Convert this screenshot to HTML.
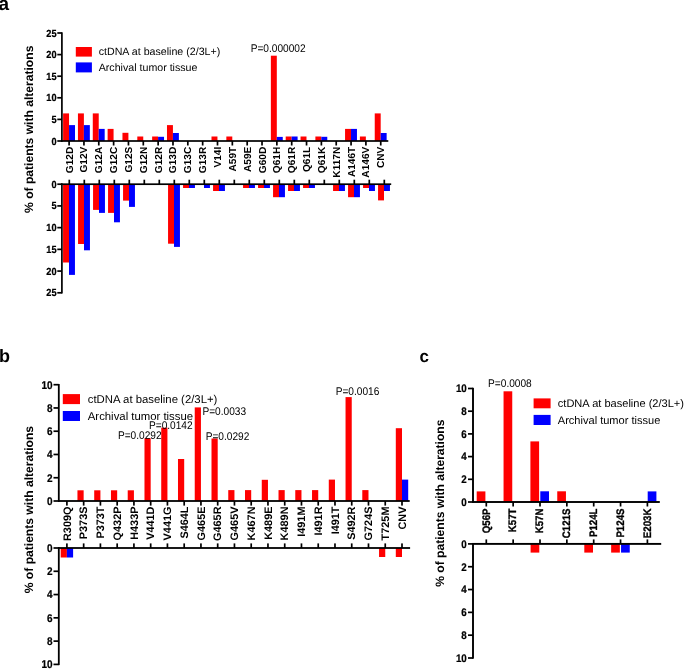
<!DOCTYPE html>
<html><head><meta charset="utf-8"><style>
html,body{margin:0;padding:0;background:#fff;}
svg{display:block;font-family:"Liberation Sans", sans-serif;will-change:transform;text-rendering:geometricPrecision;}
</style></head><body>
<svg width="685" height="669" viewBox="0 0 685 669">
<g>
<rect width="685" height="669" fill="#fff"/>
<rect x="63.10" y="113.40" width="5.95" height="27.60" fill="#ff0000"/>
<rect x="69.05" y="125.10" width="5.95" height="15.90" fill="#0000ff"/>
<rect x="77.94" y="113.40" width="5.95" height="27.60" fill="#ff0000"/>
<rect x="83.89" y="125.10" width="5.95" height="15.90" fill="#0000ff"/>
<rect x="92.78" y="113.40" width="5.95" height="27.60" fill="#ff0000"/>
<rect x="98.73" y="128.90" width="5.95" height="12.10" fill="#0000ff"/>
<rect x="107.62" y="128.90" width="5.95" height="12.10" fill="#ff0000"/>
<rect x="122.46" y="132.80" width="5.95" height="8.20" fill="#ff0000"/>
<rect x="137.30" y="136.50" width="5.95" height="4.50" fill="#ff0000"/>
<rect x="152.14" y="136.50" width="5.95" height="4.50" fill="#ff0000"/>
<rect x="158.09" y="136.80" width="5.95" height="4.20" fill="#0000ff"/>
<rect x="166.98" y="125.10" width="5.95" height="15.90" fill="#ff0000"/>
<rect x="172.93" y="133.00" width="5.95" height="8.00" fill="#0000ff"/>
<rect x="211.50" y="136.50" width="5.95" height="4.50" fill="#ff0000"/>
<rect x="226.34" y="136.50" width="5.95" height="4.50" fill="#ff0000"/>
<rect x="270.86" y="55.70" width="5.95" height="85.30" fill="#ff0000"/>
<rect x="276.81" y="136.90" width="5.95" height="4.10" fill="#0000ff"/>
<rect x="285.70" y="136.50" width="5.95" height="4.50" fill="#ff0000"/>
<rect x="291.65" y="136.50" width="5.95" height="4.50" fill="#0000ff"/>
<rect x="300.54" y="136.50" width="5.95" height="4.50" fill="#ff0000"/>
<rect x="315.38" y="136.50" width="5.95" height="4.50" fill="#ff0000"/>
<rect x="321.33" y="136.80" width="5.95" height="4.20" fill="#0000ff"/>
<rect x="345.06" y="128.90" width="5.95" height="12.10" fill="#ff0000"/>
<rect x="351.01" y="128.90" width="5.95" height="12.10" fill="#0000ff"/>
<rect x="359.90" y="136.50" width="5.95" height="4.50" fill="#ff0000"/>
<rect x="374.74" y="113.40" width="5.95" height="27.60" fill="#ff0000"/>
<rect x="380.69" y="133.00" width="5.95" height="8.00" fill="#0000ff"/>
<rect x="63.05" y="184.20" width="5.95" height="78.30" fill="#ff0000"/>
<rect x="69.00" y="184.20" width="5.95" height="90.70" fill="#0000ff"/>
<rect x="78.05" y="184.20" width="5.95" height="59.80" fill="#ff0000"/>
<rect x="84.00" y="184.20" width="5.95" height="66.10" fill="#0000ff"/>
<rect x="93.05" y="184.20" width="5.95" height="25.70" fill="#ff0000"/>
<rect x="99.00" y="184.20" width="5.95" height="28.70" fill="#0000ff"/>
<rect x="108.05" y="184.20" width="5.95" height="28.70" fill="#ff0000"/>
<rect x="114.00" y="184.20" width="5.95" height="38.10" fill="#0000ff"/>
<rect x="123.05" y="184.20" width="5.95" height="16.40" fill="#ff0000"/>
<rect x="129.00" y="184.20" width="5.95" height="22.70" fill="#0000ff"/>
<rect x="168.05" y="184.20" width="5.95" height="59.50" fill="#ff0000"/>
<rect x="174.00" y="184.20" width="5.95" height="62.70" fill="#0000ff"/>
<rect x="183.05" y="184.20" width="5.95" height="3.80" fill="#ff0000"/>
<rect x="189.00" y="184.20" width="5.95" height="3.80" fill="#0000ff"/>
<rect x="204.00" y="184.20" width="5.95" height="3.80" fill="#0000ff"/>
<rect x="213.05" y="184.20" width="5.95" height="6.80" fill="#ff0000"/>
<rect x="219.00" y="184.20" width="5.95" height="6.80" fill="#0000ff"/>
<rect x="243.05" y="184.20" width="5.95" height="3.80" fill="#ff0000"/>
<rect x="249.00" y="184.20" width="5.95" height="3.80" fill="#0000ff"/>
<rect x="258.05" y="184.20" width="5.95" height="3.80" fill="#ff0000"/>
<rect x="264.00" y="184.20" width="5.95" height="3.80" fill="#0000ff"/>
<rect x="273.05" y="184.20" width="5.95" height="13.00" fill="#ff0000"/>
<rect x="279.00" y="184.20" width="5.95" height="13.00" fill="#0000ff"/>
<rect x="288.05" y="184.20" width="5.95" height="6.80" fill="#ff0000"/>
<rect x="294.00" y="184.20" width="5.95" height="6.80" fill="#0000ff"/>
<rect x="303.05" y="184.20" width="5.95" height="3.80" fill="#ff0000"/>
<rect x="309.00" y="184.20" width="5.95" height="3.80" fill="#0000ff"/>
<rect x="333.05" y="184.20" width="5.95" height="6.80" fill="#ff0000"/>
<rect x="339.00" y="184.20" width="5.95" height="6.80" fill="#0000ff"/>
<rect x="348.05" y="184.20" width="5.95" height="13.00" fill="#ff0000"/>
<rect x="354.00" y="184.20" width="5.95" height="13.00" fill="#0000ff"/>
<rect x="363.05" y="184.20" width="5.95" height="3.80" fill="#ff0000"/>
<rect x="369.00" y="184.20" width="5.95" height="6.80" fill="#0000ff"/>
<rect x="378.05" y="184.20" width="5.95" height="16.20" fill="#ff0000"/>
<rect x="384.00" y="184.20" width="5.95" height="6.80" fill="#0000ff"/>
<rect x="61.05" y="32.30" width="1.70" height="109.50" fill="#000"/>
<rect x="57.30" y="140.15" width="4.60" height="1.70" fill="#000"/>
<text transform="translate(56.60,144.54) scale(1,1.12)" font-size="9.2" font-weight="bold" text-anchor="end" fill="#000" stroke="#000" stroke-width="0.2" >0</text>
<rect x="57.30" y="118.55" width="4.60" height="1.70" fill="#000"/>
<text transform="translate(56.60,122.94) scale(1,1.12)" font-size="9.2" font-weight="bold" text-anchor="end" fill="#000" stroke="#000" stroke-width="0.2" >5</text>
<rect x="57.30" y="96.95" width="4.60" height="1.70" fill="#000"/>
<text transform="translate(56.60,101.34) scale(1,1.12)" font-size="9.2" font-weight="bold" text-anchor="end" fill="#000" stroke="#000" stroke-width="0.2" >10</text>
<rect x="57.30" y="75.35" width="4.60" height="1.70" fill="#000"/>
<text transform="translate(56.60,79.74) scale(1,1.12)" font-size="9.2" font-weight="bold" text-anchor="end" fill="#000" stroke="#000" stroke-width="0.2" >15</text>
<rect x="57.30" y="53.75" width="4.60" height="1.70" fill="#000"/>
<text transform="translate(56.60,58.14) scale(1,1.12)" font-size="9.2" font-weight="bold" text-anchor="end" fill="#000" stroke="#000" stroke-width="0.2" >20</text>
<rect x="57.30" y="32.15" width="4.60" height="1.70" fill="#000"/>
<text transform="translate(56.60,36.54) scale(1,1.12)" font-size="9.2" font-weight="bold" text-anchor="end" fill="#000" stroke="#000" stroke-width="0.2" >25</text>
<rect x="61.05" y="183.40" width="1.70" height="110.10" fill="#000"/>
<rect x="57.30" y="183.35" width="4.60" height="1.70" fill="#000"/>
<text transform="translate(56.60,187.74) scale(1,1.12)" font-size="9.2" font-weight="bold" text-anchor="end" fill="#000" stroke="#000" stroke-width="0.2" >0</text>
<rect x="57.30" y="205.07" width="4.60" height="1.70" fill="#000"/>
<text transform="translate(56.60,209.46) scale(1,1.12)" font-size="9.2" font-weight="bold" text-anchor="end" fill="#000" stroke="#000" stroke-width="0.2" >5</text>
<rect x="57.30" y="226.79" width="4.60" height="1.70" fill="#000"/>
<text transform="translate(56.60,231.18) scale(1,1.12)" font-size="9.2" font-weight="bold" text-anchor="end" fill="#000" stroke="#000" stroke-width="0.2" >10</text>
<rect x="57.30" y="248.51" width="4.60" height="1.70" fill="#000"/>
<text transform="translate(56.60,252.90) scale(1,1.12)" font-size="9.2" font-weight="bold" text-anchor="end" fill="#000" stroke="#000" stroke-width="0.2" >15</text>
<rect x="57.30" y="270.23" width="4.60" height="1.70" fill="#000"/>
<text transform="translate(56.60,274.62) scale(1,1.12)" font-size="9.2" font-weight="bold" text-anchor="end" fill="#000" stroke="#000" stroke-width="0.2" >20</text>
<rect x="57.30" y="291.95" width="4.60" height="1.70" fill="#000"/>
<text transform="translate(56.60,296.34) scale(1,1.12)" font-size="9.2" font-weight="bold" text-anchor="end" fill="#000" stroke="#000" stroke-width="0.2" >25</text>
<rect x="61.10" y="140.15" width="327.20" height="1.70" fill="#000"/>
<rect x="61.10" y="183.35" width="330.10" height="1.70" fill="#000"/>
<rect x="68.25" y="141.00" width="1.70" height="4.50" fill="#000"/>
<rect x="68.45" y="179.70" width="1.70" height="4.50" fill="#000"/>
<text transform="translate(72.59,146.70) rotate(-90)" font-size="10.15" font-weight="bold" text-anchor="end" fill="#000" >G12D</text>
<rect x="83.09" y="141.00" width="1.70" height="4.50" fill="#000"/>
<rect x="83.45" y="179.70" width="1.70" height="4.50" fill="#000"/>
<text transform="translate(87.43,146.70) rotate(-90)" font-size="10.15" font-weight="bold" text-anchor="end" fill="#000" >G12V</text>
<rect x="97.93" y="141.00" width="1.70" height="4.50" fill="#000"/>
<rect x="98.45" y="179.70" width="1.70" height="4.50" fill="#000"/>
<text transform="translate(102.27,146.70) rotate(-90)" font-size="10.15" font-weight="bold" text-anchor="end" fill="#000" >G12A</text>
<rect x="112.77" y="141.00" width="1.70" height="4.50" fill="#000"/>
<rect x="113.45" y="179.70" width="1.70" height="4.50" fill="#000"/>
<text transform="translate(117.11,146.70) rotate(-90)" font-size="10.15" font-weight="bold" text-anchor="end" fill="#000" >G12C</text>
<rect x="127.61" y="141.00" width="1.70" height="4.50" fill="#000"/>
<rect x="128.45" y="179.70" width="1.70" height="4.50" fill="#000"/>
<text transform="translate(131.95,146.70) rotate(-90)" font-size="10.15" font-weight="bold" text-anchor="end" fill="#000" >G12S</text>
<rect x="142.45" y="141.00" width="1.70" height="4.50" fill="#000"/>
<rect x="143.45" y="179.70" width="1.70" height="4.50" fill="#000"/>
<text transform="translate(146.79,146.70) rotate(-90)" font-size="10.15" font-weight="bold" text-anchor="end" fill="#000" >G12N</text>
<rect x="157.29" y="141.00" width="1.70" height="4.50" fill="#000"/>
<rect x="158.45" y="179.70" width="1.70" height="4.50" fill="#000"/>
<text transform="translate(161.63,146.70) rotate(-90)" font-size="10.15" font-weight="bold" text-anchor="end" fill="#000" >G12R</text>
<rect x="172.13" y="141.00" width="1.70" height="4.50" fill="#000"/>
<rect x="173.45" y="179.70" width="1.70" height="4.50" fill="#000"/>
<text transform="translate(176.47,146.70) rotate(-90)" font-size="10.15" font-weight="bold" text-anchor="end" fill="#000" >G13D</text>
<rect x="186.97" y="141.00" width="1.70" height="4.50" fill="#000"/>
<rect x="188.45" y="179.70" width="1.70" height="4.50" fill="#000"/>
<text transform="translate(191.31,146.70) rotate(-90)" font-size="10.15" font-weight="bold" text-anchor="end" fill="#000" >G13C</text>
<rect x="201.81" y="141.00" width="1.70" height="4.50" fill="#000"/>
<rect x="203.45" y="179.70" width="1.70" height="4.50" fill="#000"/>
<text transform="translate(206.15,146.70) rotate(-90)" font-size="10.15" font-weight="bold" text-anchor="end" fill="#000" >G13R</text>
<rect x="216.65" y="141.00" width="1.70" height="4.50" fill="#000"/>
<rect x="218.45" y="179.70" width="1.70" height="4.50" fill="#000"/>
<text transform="translate(220.99,146.70) rotate(-90)" font-size="10.15" font-weight="bold" text-anchor="end" fill="#000" >V14I</text>
<rect x="231.49" y="141.00" width="1.70" height="4.50" fill="#000"/>
<rect x="233.45" y="179.70" width="1.70" height="4.50" fill="#000"/>
<text transform="translate(235.83,146.70) rotate(-90)" font-size="10.15" font-weight="bold" text-anchor="end" fill="#000" >A59T</text>
<rect x="246.33" y="141.00" width="1.70" height="4.50" fill="#000"/>
<rect x="248.45" y="179.70" width="1.70" height="4.50" fill="#000"/>
<text transform="translate(250.67,146.70) rotate(-90)" font-size="10.15" font-weight="bold" text-anchor="end" fill="#000" >A59E</text>
<rect x="261.17" y="141.00" width="1.70" height="4.50" fill="#000"/>
<rect x="263.45" y="179.70" width="1.70" height="4.50" fill="#000"/>
<text transform="translate(265.51,146.70) rotate(-90)" font-size="10.15" font-weight="bold" text-anchor="end" fill="#000" >G60D</text>
<rect x="276.01" y="141.00" width="1.70" height="4.50" fill="#000"/>
<rect x="278.45" y="179.70" width="1.70" height="4.50" fill="#000"/>
<text transform="translate(280.35,146.70) rotate(-90)" font-size="10.15" font-weight="bold" text-anchor="end" fill="#000" >Q61H</text>
<rect x="290.85" y="141.00" width="1.70" height="4.50" fill="#000"/>
<rect x="293.45" y="179.70" width="1.70" height="4.50" fill="#000"/>
<text transform="translate(295.19,146.70) rotate(-90)" font-size="10.15" font-weight="bold" text-anchor="end" fill="#000" >Q61R</text>
<rect x="305.69" y="141.00" width="1.70" height="4.50" fill="#000"/>
<rect x="308.45" y="179.70" width="1.70" height="4.50" fill="#000"/>
<text transform="translate(310.03,146.70) rotate(-90)" font-size="10.15" font-weight="bold" text-anchor="end" fill="#000" >Q61L</text>
<rect x="320.53" y="141.00" width="1.70" height="4.50" fill="#000"/>
<rect x="323.45" y="179.70" width="1.70" height="4.50" fill="#000"/>
<text transform="translate(324.87,146.70) rotate(-90)" font-size="10.15" font-weight="bold" text-anchor="end" fill="#000" >Q61K</text>
<rect x="335.37" y="141.00" width="1.70" height="4.50" fill="#000"/>
<rect x="338.45" y="179.70" width="1.70" height="4.50" fill="#000"/>
<text transform="translate(339.71,146.70) rotate(-90)" font-size="10.15" font-weight="bold" text-anchor="end" fill="#000" >K117N</text>
<rect x="350.21" y="141.00" width="1.70" height="4.50" fill="#000"/>
<rect x="353.45" y="179.70" width="1.70" height="4.50" fill="#000"/>
<text transform="translate(354.55,146.70) rotate(-90)" font-size="10.15" font-weight="bold" text-anchor="end" fill="#000" >A146T</text>
<rect x="365.05" y="141.00" width="1.70" height="4.50" fill="#000"/>
<rect x="368.45" y="179.70" width="1.70" height="4.50" fill="#000"/>
<text transform="translate(369.39,146.70) rotate(-90)" font-size="10.15" font-weight="bold" text-anchor="end" fill="#000" >A146V</text>
<rect x="379.89" y="141.00" width="1.70" height="4.50" fill="#000"/>
<rect x="383.45" y="179.70" width="1.70" height="4.50" fill="#000"/>
<text transform="translate(384.23,146.70) rotate(-90)" font-size="10.15" font-weight="bold" text-anchor="end" fill="#000" >CNV</text>
<rect x="75.80" y="47.00" width="16.10" height="9.60" fill="#ff0000"/>
<rect x="75.80" y="62.40" width="16.10" height="10.00" fill="#0000ff"/>
<text transform="translate(98.70,55.30)" font-size="10.65" font-weight="normal" text-anchor="start" fill="#000" >ctDNA at baseline (2/3L+)</text>
<text transform="translate(98.70,70.70)" font-size="10.65" font-weight="normal" text-anchor="start" fill="#000" >Archival tumor tissue</text>
<text transform="translate(33.30,129.30) rotate(-90)" font-size="12.1" font-weight="bold" text-anchor="middle" fill="#000" >% of patients with alterations</text>
<text transform="translate(-1.50,9.60)" font-size="19" font-weight="bold" text-anchor="start" fill="#000" >a</text>
<text transform="translate(250.70,51.70) scale(1,1.1)" font-size="10.15" font-weight="normal" text-anchor="start" fill="#000" >P=0.000002</text>
<rect x="77.45" y="490.30" width="6.20" height="10.70" fill="#ff0000"/>
<rect x="94.21" y="490.30" width="6.20" height="10.70" fill="#ff0000"/>
<rect x="110.97" y="490.30" width="6.20" height="10.70" fill="#ff0000"/>
<rect x="127.72" y="490.30" width="6.20" height="10.70" fill="#ff0000"/>
<rect x="144.48" y="438.20" width="6.20" height="62.80" fill="#ff0000"/>
<rect x="161.23" y="427.70" width="6.20" height="73.30" fill="#ff0000"/>
<rect x="177.99" y="459.00" width="6.20" height="42.00" fill="#ff0000"/>
<rect x="194.74" y="407.40" width="6.20" height="93.60" fill="#ff0000"/>
<rect x="211.50" y="438.50" width="6.20" height="62.50" fill="#ff0000"/>
<rect x="228.25" y="490.10" width="6.20" height="10.90" fill="#ff0000"/>
<rect x="245.00" y="490.10" width="6.20" height="10.90" fill="#ff0000"/>
<rect x="261.76" y="479.80" width="6.20" height="21.20" fill="#ff0000"/>
<rect x="278.52" y="490.10" width="6.20" height="10.90" fill="#ff0000"/>
<rect x="295.27" y="490.10" width="6.20" height="10.90" fill="#ff0000"/>
<rect x="312.03" y="490.10" width="6.20" height="10.90" fill="#ff0000"/>
<rect x="328.78" y="479.60" width="6.20" height="21.40" fill="#ff0000"/>
<rect x="345.54" y="397.10" width="6.20" height="103.90" fill="#ff0000"/>
<rect x="362.29" y="490.10" width="6.20" height="10.90" fill="#ff0000"/>
<rect x="395.80" y="428.20" width="6.20" height="72.80" fill="#ff0000"/>
<rect x="402.00" y="479.60" width="6.20" height="21.40" fill="#0000ff"/>
<rect x="60.70" y="548.00" width="6.20" height="9.50" fill="#ff0000"/>
<rect x="66.90" y="548.00" width="6.20" height="9.50" fill="#0000ff"/>
<rect x="379.05" y="548.00" width="6.20" height="9.00" fill="#ff0000"/>
<rect x="395.80" y="548.00" width="6.20" height="9.00" fill="#ff0000"/>
<rect x="57.90" y="384.00" width="1.80" height="117.80" fill="#000"/>
<rect x="53.50" y="500.15" width="5.30" height="1.70" fill="#000"/>
<text transform="translate(52.60,504.85) scale(1,1.12)" font-size="10" font-weight="bold" text-anchor="end" fill="#000" stroke="#000" stroke-width="0.2" >0</text>
<rect x="53.50" y="476.89" width="5.30" height="1.70" fill="#000"/>
<text transform="translate(52.60,481.59) scale(1,1.12)" font-size="10" font-weight="bold" text-anchor="end" fill="#000" stroke="#000" stroke-width="0.2" >2</text>
<rect x="53.50" y="453.63" width="5.30" height="1.70" fill="#000"/>
<text transform="translate(52.60,458.33) scale(1,1.12)" font-size="10" font-weight="bold" text-anchor="end" fill="#000" stroke="#000" stroke-width="0.2" >4</text>
<rect x="53.50" y="430.37" width="5.30" height="1.70" fill="#000"/>
<text transform="translate(52.60,435.07) scale(1,1.12)" font-size="10" font-weight="bold" text-anchor="end" fill="#000" stroke="#000" stroke-width="0.2" >6</text>
<rect x="53.50" y="407.11" width="5.30" height="1.70" fill="#000"/>
<text transform="translate(52.60,411.81) scale(1,1.12)" font-size="10" font-weight="bold" text-anchor="end" fill="#000" stroke="#000" stroke-width="0.2" >8</text>
<rect x="53.50" y="383.85" width="5.30" height="1.70" fill="#000"/>
<text transform="translate(52.60,388.55) scale(1,1.12)" font-size="10" font-weight="bold" text-anchor="end" fill="#000" stroke="#000" stroke-width="0.2" >10</text>
<rect x="57.90" y="547.20" width="1.80" height="117.90" fill="#000"/>
<rect x="53.50" y="547.15" width="5.30" height="1.70" fill="#000"/>
<text transform="translate(52.60,551.85) scale(1,1.12)" font-size="10" font-weight="bold" text-anchor="end" fill="#000" stroke="#000" stroke-width="0.2" >0</text>
<rect x="53.50" y="570.43" width="5.30" height="1.70" fill="#000"/>
<text transform="translate(52.60,575.13) scale(1,1.12)" font-size="10" font-weight="bold" text-anchor="end" fill="#000" stroke="#000" stroke-width="0.2" >2</text>
<rect x="53.50" y="593.71" width="5.30" height="1.70" fill="#000"/>
<text transform="translate(52.60,598.41) scale(1,1.12)" font-size="10" font-weight="bold" text-anchor="end" fill="#000" stroke="#000" stroke-width="0.2" >4</text>
<rect x="53.50" y="616.99" width="5.30" height="1.70" fill="#000"/>
<text transform="translate(52.60,621.69) scale(1,1.12)" font-size="10" font-weight="bold" text-anchor="end" fill="#000" stroke="#000" stroke-width="0.2" >6</text>
<rect x="53.50" y="640.27" width="5.30" height="1.70" fill="#000"/>
<text transform="translate(52.60,644.97) scale(1,1.12)" font-size="10" font-weight="bold" text-anchor="end" fill="#000" stroke="#000" stroke-width="0.2" >8</text>
<rect x="53.50" y="663.55" width="5.30" height="1.70" fill="#000"/>
<text transform="translate(52.60,668.25) scale(1,1.12)" font-size="10" font-weight="bold" text-anchor="end" fill="#000" stroke="#000" stroke-width="0.2" >10</text>
<rect x="58.00" y="500.10" width="351.70" height="1.80" fill="#000"/>
<rect x="58.00" y="547.10" width="352.10" height="1.80" fill="#000"/>
<rect x="66.05" y="501.00" width="1.70" height="4.60" fill="#000"/>
<rect x="66.05" y="543.40" width="1.70" height="4.60" fill="#000"/>
<text transform="translate(70.65,506.50) rotate(-90)" font-size="10.9" font-weight="bold" text-anchor="end" fill="#000" >R309Q</text>
<rect x="82.81" y="501.00" width="1.70" height="4.60" fill="#000"/>
<rect x="82.81" y="543.40" width="1.70" height="4.60" fill="#000"/>
<text transform="translate(87.40,506.50) rotate(-90)" font-size="10.9" font-weight="bold" text-anchor="end" fill="#000" >P373S</text>
<rect x="99.56" y="501.00" width="1.70" height="4.60" fill="#000"/>
<rect x="99.56" y="543.40" width="1.70" height="4.60" fill="#000"/>
<text transform="translate(104.16,506.50) rotate(-90)" font-size="10.9" font-weight="bold" text-anchor="end" fill="#000" >P373T</text>
<rect x="116.32" y="501.00" width="1.70" height="4.60" fill="#000"/>
<rect x="116.32" y="543.40" width="1.70" height="4.60" fill="#000"/>
<text transform="translate(120.91,506.50) rotate(-90)" font-size="10.9" font-weight="bold" text-anchor="end" fill="#000" >Q432P</text>
<rect x="133.07" y="501.00" width="1.70" height="4.60" fill="#000"/>
<rect x="133.07" y="543.40" width="1.70" height="4.60" fill="#000"/>
<text transform="translate(137.67,506.50) rotate(-90)" font-size="10.9" font-weight="bold" text-anchor="end" fill="#000" >H433P</text>
<rect x="149.83" y="501.00" width="1.70" height="4.60" fill="#000"/>
<rect x="149.83" y="543.40" width="1.70" height="4.60" fill="#000"/>
<text transform="translate(154.42,506.50) rotate(-90)" font-size="10.9" font-weight="bold" text-anchor="end" fill="#000" >V441D</text>
<rect x="166.58" y="501.00" width="1.70" height="4.60" fill="#000"/>
<rect x="166.58" y="543.40" width="1.70" height="4.60" fill="#000"/>
<text transform="translate(171.18,506.50) rotate(-90)" font-size="10.9" font-weight="bold" text-anchor="end" fill="#000" >V441G</text>
<rect x="183.34" y="501.00" width="1.70" height="4.60" fill="#000"/>
<rect x="183.34" y="543.40" width="1.70" height="4.60" fill="#000"/>
<text transform="translate(187.93,506.50) rotate(-90)" font-size="10.9" font-weight="bold" text-anchor="end" fill="#000" >S464L</text>
<rect x="200.09" y="501.00" width="1.70" height="4.60" fill="#000"/>
<rect x="200.09" y="543.40" width="1.70" height="4.60" fill="#000"/>
<text transform="translate(204.69,506.50) rotate(-90)" font-size="10.9" font-weight="bold" text-anchor="end" fill="#000" >G465E</text>
<rect x="216.84" y="501.00" width="1.70" height="4.60" fill="#000"/>
<rect x="216.84" y="543.40" width="1.70" height="4.60" fill="#000"/>
<text transform="translate(221.44,506.50) rotate(-90)" font-size="10.9" font-weight="bold" text-anchor="end" fill="#000" >G465R</text>
<rect x="233.60" y="501.00" width="1.70" height="4.60" fill="#000"/>
<rect x="233.60" y="543.40" width="1.70" height="4.60" fill="#000"/>
<text transform="translate(238.20,506.50) rotate(-90)" font-size="10.9" font-weight="bold" text-anchor="end" fill="#000" >G465V</text>
<rect x="250.35" y="501.00" width="1.70" height="4.60" fill="#000"/>
<rect x="250.35" y="543.40" width="1.70" height="4.60" fill="#000"/>
<text transform="translate(254.95,506.50) rotate(-90)" font-size="10.9" font-weight="bold" text-anchor="end" fill="#000" >K467N</text>
<rect x="267.11" y="501.00" width="1.70" height="4.60" fill="#000"/>
<rect x="267.11" y="543.40" width="1.70" height="4.60" fill="#000"/>
<text transform="translate(271.71,506.50) rotate(-90)" font-size="10.9" font-weight="bold" text-anchor="end" fill="#000" >K489E</text>
<rect x="283.87" y="501.00" width="1.70" height="4.60" fill="#000"/>
<rect x="283.87" y="543.40" width="1.70" height="4.60" fill="#000"/>
<text transform="translate(288.46,506.50) rotate(-90)" font-size="10.9" font-weight="bold" text-anchor="end" fill="#000" >K489N</text>
<rect x="300.62" y="501.00" width="1.70" height="4.60" fill="#000"/>
<rect x="300.62" y="543.40" width="1.70" height="4.60" fill="#000"/>
<text transform="translate(305.22,506.50) rotate(-90)" font-size="10.9" font-weight="bold" text-anchor="end" fill="#000" >I491M</text>
<rect x="317.38" y="501.00" width="1.70" height="4.60" fill="#000"/>
<rect x="317.38" y="543.40" width="1.70" height="4.60" fill="#000"/>
<text transform="translate(321.97,506.50) rotate(-90)" font-size="10.9" font-weight="bold" text-anchor="end" fill="#000" >I491R</text>
<rect x="334.13" y="501.00" width="1.70" height="4.60" fill="#000"/>
<rect x="334.13" y="543.40" width="1.70" height="4.60" fill="#000"/>
<text transform="translate(338.73,506.50) rotate(-90)" font-size="10.9" font-weight="bold" text-anchor="end" fill="#000" >I491T</text>
<rect x="350.88" y="501.00" width="1.70" height="4.60" fill="#000"/>
<rect x="350.88" y="543.40" width="1.70" height="4.60" fill="#000"/>
<text transform="translate(355.48,506.50) rotate(-90)" font-size="10.9" font-weight="bold" text-anchor="end" fill="#000" >S492R</text>
<rect x="367.64" y="501.00" width="1.70" height="4.60" fill="#000"/>
<rect x="367.64" y="543.40" width="1.70" height="4.60" fill="#000"/>
<text transform="translate(372.24,506.50) rotate(-90)" font-size="10.9" font-weight="bold" text-anchor="end" fill="#000" >G724S</text>
<rect x="384.39" y="501.00" width="1.70" height="4.60" fill="#000"/>
<rect x="384.39" y="543.40" width="1.70" height="4.60" fill="#000"/>
<text transform="translate(388.99,506.50) rotate(-90)" font-size="10.9" font-weight="bold" text-anchor="end" fill="#000" >T725M</text>
<rect x="401.15" y="501.00" width="1.70" height="4.60" fill="#000"/>
<rect x="401.15" y="543.40" width="1.70" height="4.60" fill="#000"/>
<text transform="translate(405.75,506.50) rotate(-90)" font-size="10.9" font-weight="bold" text-anchor="end" fill="#000" >CNV</text>
<rect x="62.80" y="394.10" width="17.20" height="10.00" fill="#ff0000"/>
<rect x="62.80" y="411.00" width="17.20" height="10.00" fill="#0000ff"/>
<text transform="translate(87.80,403.40)" font-size="11.35" font-weight="normal" text-anchor="start" fill="#000" >ctDNA at baseline (2/3L+)</text>
<text transform="translate(87.80,419.80)" font-size="11.35" font-weight="normal" text-anchor="start" fill="#000" >Archival tumor tissue</text>
<text transform="translate(33.30,509.60) rotate(-90)" font-size="12.1" font-weight="bold" text-anchor="middle" fill="#000" >% of patients with alterations</text>
<text transform="translate(-0.90,362.00)" font-size="18" font-weight="bold" text-anchor="start" fill="#000" >b</text>
<text transform="translate(117.90,438.50) scale(1,1.1)" font-size="10.15" font-weight="normal" text-anchor="start" fill="#000" >P=0.0292</text>
<text transform="translate(149.00,428.90) scale(1,1.1)" font-size="10.15" font-weight="normal" text-anchor="start" fill="#000" >P=0.0142</text>
<text transform="translate(202.40,415.00) scale(1,1.1)" font-size="10.15" font-weight="normal" text-anchor="start" fill="#000" >P=0.0033</text>
<text transform="translate(205.70,440.40) scale(1,1.1)" font-size="10.15" font-weight="normal" text-anchor="start" fill="#000" >P=0.0292</text>
<text transform="translate(335.70,394.80) scale(1,1.1)" font-size="10.15" font-weight="normal" text-anchor="start" fill="#000" >P=0.0016</text>
<rect x="476.70" y="491.40" width="8.70" height="10.60" fill="#ff0000"/>
<rect x="503.55" y="391.30" width="8.70" height="110.70" fill="#ff0000"/>
<rect x="530.40" y="441.40" width="8.70" height="60.60" fill="#ff0000"/>
<rect x="540.30" y="491.30" width="8.70" height="10.70" fill="#0000ff"/>
<rect x="557.25" y="491.30" width="8.70" height="10.70" fill="#ff0000"/>
<rect x="647.70" y="491.40" width="8.70" height="10.60" fill="#0000ff"/>
<rect x="530.60" y="543.90" width="8.70" height="8.70" fill="#ff0000"/>
<rect x="584.30" y="543.90" width="8.70" height="8.70" fill="#ff0000"/>
<rect x="611.15" y="543.90" width="8.70" height="8.70" fill="#ff0000"/>
<rect x="621.05" y="543.90" width="8.70" height="8.70" fill="#0000ff"/>
<rect x="472.05" y="387.80" width="1.90" height="115.00" fill="#000"/>
<rect x="468.00" y="501.15" width="5.00" height="1.70" fill="#000"/>
<text transform="translate(466.80,505.78) scale(1,1.12)" font-size="9.8" font-weight="bold" text-anchor="end" fill="#000" stroke="#000" stroke-width="0.2" >0</text>
<rect x="468.00" y="478.45" width="5.00" height="1.70" fill="#000"/>
<text transform="translate(466.80,483.08) scale(1,1.12)" font-size="9.8" font-weight="bold" text-anchor="end" fill="#000" stroke="#000" stroke-width="0.2" >2</text>
<rect x="468.00" y="455.75" width="5.00" height="1.70" fill="#000"/>
<text transform="translate(466.80,460.38) scale(1,1.12)" font-size="9.8" font-weight="bold" text-anchor="end" fill="#000" stroke="#000" stroke-width="0.2" >4</text>
<rect x="468.00" y="433.05" width="5.00" height="1.70" fill="#000"/>
<text transform="translate(466.80,437.68) scale(1,1.12)" font-size="9.8" font-weight="bold" text-anchor="end" fill="#000" stroke="#000" stroke-width="0.2" >6</text>
<rect x="468.00" y="410.35" width="5.00" height="1.70" fill="#000"/>
<text transform="translate(466.80,414.98) scale(1,1.12)" font-size="9.8" font-weight="bold" text-anchor="end" fill="#000" stroke="#000" stroke-width="0.2" >8</text>
<rect x="468.00" y="387.65" width="5.00" height="1.70" fill="#000"/>
<text transform="translate(466.80,392.28) scale(1,1.12)" font-size="9.8" font-weight="bold" text-anchor="end" fill="#000" stroke="#000" stroke-width="0.2" >10</text>
<rect x="472.05" y="543.10" width="1.90" height="115.60" fill="#000"/>
<rect x="468.00" y="543.05" width="5.00" height="1.70" fill="#000"/>
<text transform="translate(466.80,547.68) scale(1,1.12)" font-size="9.8" font-weight="bold" text-anchor="end" fill="#000" stroke="#000" stroke-width="0.2" >0</text>
<rect x="468.00" y="565.87" width="5.00" height="1.70" fill="#000"/>
<text transform="translate(466.80,570.50) scale(1,1.12)" font-size="9.8" font-weight="bold" text-anchor="end" fill="#000" stroke="#000" stroke-width="0.2" >2</text>
<rect x="468.00" y="588.69" width="5.00" height="1.70" fill="#000"/>
<text transform="translate(466.80,593.32) scale(1,1.12)" font-size="9.8" font-weight="bold" text-anchor="end" fill="#000" stroke="#000" stroke-width="0.2" >4</text>
<rect x="468.00" y="611.51" width="5.00" height="1.70" fill="#000"/>
<text transform="translate(466.80,616.14) scale(1,1.12)" font-size="9.8" font-weight="bold" text-anchor="end" fill="#000" stroke="#000" stroke-width="0.2" >6</text>
<rect x="468.00" y="634.33" width="5.00" height="1.70" fill="#000"/>
<text transform="translate(466.80,638.96) scale(1,1.12)" font-size="9.8" font-weight="bold" text-anchor="end" fill="#000" stroke="#000" stroke-width="0.2" >8</text>
<rect x="468.00" y="657.15" width="5.00" height="1.70" fill="#000"/>
<text transform="translate(466.80,661.78) scale(1,1.12)" font-size="9.8" font-weight="bold" text-anchor="end" fill="#000" stroke="#000" stroke-width="0.2" >10</text>
<rect x="472.20" y="501.05" width="187.60" height="1.90" fill="#000"/>
<rect x="472.20" y="542.95" width="189.00" height="1.90" fill="#000"/>
<rect x="485.45" y="502.00" width="1.70" height="4.50" fill="#000"/>
<rect x="485.45" y="539.40" width="1.70" height="4.50" fill="#000"/>
<text transform="translate(489.64,508.50) rotate(-90) scale(1,1.12)" font-size="9.7" font-weight="bold" text-anchor="end" fill="#000" stroke="#000" stroke-width="0.3" >Q56P</text>
<rect x="512.30" y="502.00" width="1.70" height="4.50" fill="#000"/>
<rect x="512.30" y="539.40" width="1.70" height="4.50" fill="#000"/>
<text transform="translate(516.49,508.50) rotate(-90) scale(1,1.12)" font-size="9.7" font-weight="bold" text-anchor="end" fill="#000" stroke="#000" stroke-width="0.3" >K57T</text>
<rect x="539.15" y="502.00" width="1.70" height="4.50" fill="#000"/>
<rect x="539.15" y="539.40" width="1.70" height="4.50" fill="#000"/>
<text transform="translate(543.34,508.50) rotate(-90) scale(1,1.12)" font-size="9.7" font-weight="bold" text-anchor="end" fill="#000" stroke="#000" stroke-width="0.3" >K57N</text>
<rect x="566.00" y="502.00" width="1.70" height="4.50" fill="#000"/>
<rect x="566.00" y="539.40" width="1.70" height="4.50" fill="#000"/>
<text transform="translate(570.19,508.50) rotate(-90) scale(1,1.12)" font-size="9.7" font-weight="bold" text-anchor="end" fill="#000" stroke="#000" stroke-width="0.3" >C121S</text>
<rect x="592.85" y="502.00" width="1.70" height="4.50" fill="#000"/>
<rect x="592.85" y="539.40" width="1.70" height="4.50" fill="#000"/>
<text transform="translate(597.04,508.50) rotate(-90) scale(1,1.12)" font-size="9.7" font-weight="bold" text-anchor="end" fill="#000" stroke="#000" stroke-width="0.3" >P124L</text>
<rect x="619.70" y="502.00" width="1.70" height="4.50" fill="#000"/>
<rect x="619.70" y="539.40" width="1.70" height="4.50" fill="#000"/>
<text transform="translate(623.89,508.50) rotate(-90) scale(1,1.12)" font-size="9.7" font-weight="bold" text-anchor="end" fill="#000" stroke="#000" stroke-width="0.3" >P124S</text>
<rect x="646.55" y="502.00" width="1.70" height="4.50" fill="#000"/>
<rect x="646.55" y="539.40" width="1.70" height="4.50" fill="#000"/>
<text transform="translate(650.74,508.50) rotate(-90) scale(1,1.12)" font-size="9.7" font-weight="bold" text-anchor="end" fill="#000" stroke="#000" stroke-width="0.3" >E203K</text>
<rect x="533.60" y="398.40" width="17.00" height="9.90" fill="#ff0000"/>
<rect x="533.60" y="414.90" width="17.00" height="10.10" fill="#0000ff"/>
<text transform="translate(557.80,407.30)" font-size="11.05" font-weight="normal" text-anchor="start" fill="#000" >ctDNA at baseline (2/3L+)</text>
<text transform="translate(557.80,424.00)" font-size="11.05" font-weight="normal" text-anchor="start" fill="#000" >Archival tumor tissue</text>
<text transform="translate(444.00,503.20) rotate(-90)" font-size="12.1" font-weight="bold" text-anchor="middle" fill="#000" >% of patients with alterations</text>
<text transform="translate(419.50,362.00)" font-size="17" font-weight="bold" text-anchor="start" fill="#000" >c</text>
<text transform="translate(488.10,387.20) scale(1,1.1)" font-size="10.15" font-weight="normal" text-anchor="start" fill="#000" >P=0.0008</text>
</g>
</svg>
</body></html>
